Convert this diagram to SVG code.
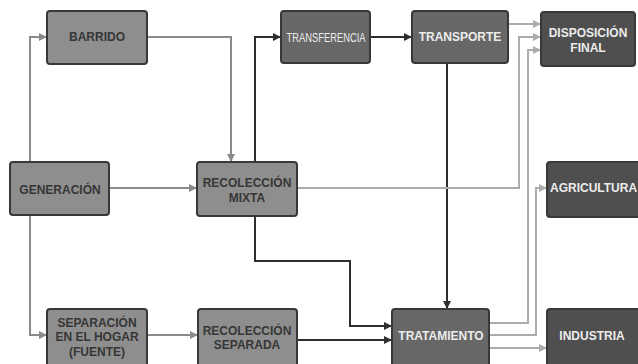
<svg xmlns="http://www.w3.org/2000/svg" width="638" height="364" viewBox="0 0 638 364">
<style>
.box rect{stroke:#383838;stroke-width:2}
.l rect{fill:#8e8e8e}
.m rect{fill:#676767}
.d rect{fill:#4f4f4f}
text{font-family:"Liberation Sans",Arial,sans-serif;font-weight:bold;font-size:12px;text-anchor:middle}
.l text{fill:#363636}
.m text,.d text{fill:#ececec}
.c path{fill:none;stroke-width:2}
.g{stroke:#8a8a8a}
.k{stroke:#2e2e2e}
.w{stroke:#acacac}
</style>
<defs>
<marker id="ag" markerUnits="userSpaceOnUse" markerWidth="9" markerHeight="9" refX="8" refY="4" orient="auto"><path d="M0,0 L8,4 L0,8 z" fill="#8a8a8a"/></marker>
<marker id="ak" markerUnits="userSpaceOnUse" markerWidth="9" markerHeight="9" refX="8" refY="4" orient="auto"><path d="M0,0 L8,4 L0,8 z" fill="#2e2e2e"/></marker>
<marker id="aw" markerUnits="userSpaceOnUse" markerWidth="9" markerHeight="9" refX="8" refY="4" orient="auto"><path d="M0,0 L8,4 L0,8 z" fill="#acacac"/></marker>
</defs>
<rect width="638" height="364" fill="#ffffff"/>
<g class="c">
<path class="g" d="M30,162 V37 H47" marker-end="url(#ag)"/>
<path class="g" d="M30,215 V335 H47" marker-end="url(#ag)"/>
<path class="g" d="M109,188 H197" marker-end="url(#ag)"/>
<path class="g" d="M147,37 H231 V162" marker-end="url(#ag)"/>
<path class="g" d="M147,335 H198" marker-end="url(#ag)"/>
<path class="k" d="M255,162 V37 H281" marker-end="url(#ak)"/>
<path class="k" d="M370,37 H412" marker-end="url(#ak)"/>
<path class="k" d="M447,63 V309" marker-end="url(#ak)"/>
<path class="k" d="M255,216 V261 H350 V326 H392" marker-end="url(#ak)"/>
<path class="k" d="M297,340 H392" marker-end="url(#ak)"/>
<path class="w" d="M508,24 H541" marker-end="url(#aw)"/>
<path class="w" d="M297,188 H519 V37 H541" marker-end="url(#aw)"/>
<path class="w" d="M489,323 H528 V50 H541" marker-end="url(#aw)"/>
<path class="w" d="M489,335 H536 V188 H547" marker-end="url(#aw)"/>
<path class="w" d="M489,348 H547" marker-end="url(#aw)"/>
</g>
<g id="barrido" class="box l"><rect x="47" y="11" width="100" height="53" rx="3"/><text x="97" y="41">BARRIDO</text></g>
<g id="generacion" class="box l"><rect x="10" y="162" width="99" height="53" rx="3"/><text x="60" y="194">GENERACIÓN</text></g>
<g id="recoleccion-mixta" class="box l"><rect x="197" y="162" width="100" height="54" rx="3"/><text x="247" y="187">RECOLECCIÓN</text><text x="247" y="202">MIXTA</text></g>
<g id="separacion" class="box l"><rect x="47" y="309" width="100" height="60" rx="3"/><text x="97" y="327">SEPARACIÓN</text><text x="97" y="341">EN EL HOGAR</text><text x="97" y="356">(FUENTE)</text></g>
<g id="recoleccion-separada" class="box l"><rect x="198" y="309" width="99" height="60" rx="3"/><text x="247" y="335">RECOLECCIÓN</text><text x="247" y="349">SEPARADA</text></g>
<g id="transferencia" class="box m"><rect x="281" y="11" width="89" height="52" rx="3"/><text x="326" y="42" style="font-weight:normal;font-size:13px" textLength="79" lengthAdjust="spacingAndGlyphs">TRANSFERENCIA</text></g>
<g id="transporte" class="box m"><rect x="412" y="11" width="96" height="52" rx="3"/><text x="460" y="41">TRANSPORTE</text></g>
<g id="tratamiento" class="box m"><rect x="392" y="309" width="97" height="60" rx="3"/><text x="441" y="340">TRATAMIENTO</text></g>
<g id="disposicion-final" class="box d"><rect x="541" y="12" width="94" height="54" rx="3"/><text x="588" y="37">DISPOSICIÓN</text><text x="588" y="52">FINAL</text></g>
<g id="agricultura" class="box d"><rect x="547" y="162" width="100" height="55" rx="3"/><text x="550" y="192" style="text-anchor:start">AGRICULTURA</text></g>
<g id="industria" class="box d"><rect x="547" y="309" width="100" height="60" rx="3"/><text x="592" y="340">INDUSTRIA</text></g>
</svg>
